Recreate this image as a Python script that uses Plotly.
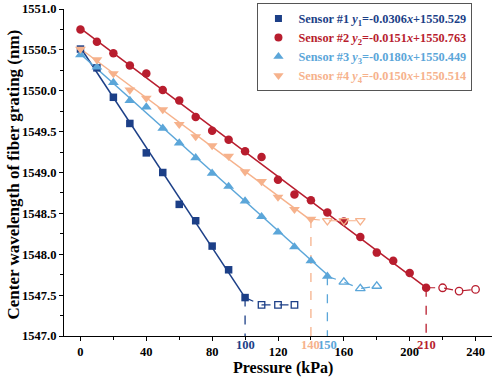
import plotly.graph_objects as go

# ---------------- data ----------------
s1_x = [0, 10, 20, 30, 40, 50, 60, 70, 80, 90, 100]
s1_y = [1550.51, 1550.28, 1549.92, 1549.60, 1549.24, 1549.00, 1548.61, 1548.41, 1548.10, 1547.81, 1547.47]
s1_hx = [110, 120, 130]
s1_hy = [1547.38, 1547.38, 1547.38]

s2_x = [0, 10, 20, 30, 40, 50, 60, 70, 80, 90, 100, 110, 120, 130, 140, 150, 160, 170, 180, 190, 200, 210]
s2_y = [1550.75, 1550.60, 1550.46, 1550.31, 1550.21, 1550.01, 1549.88, 1549.68, 1549.51, 1549.40, 1549.26,
        1549.19, 1548.91, 1548.73, 1548.66, 1548.51, 1548.40, 1548.21, 1548.02, 1547.92, 1547.77, 1547.59]
s2_hx = [220, 230, 240]
s2_hy = [1547.59, 1547.55, 1547.57]

s3_x = [0, 10, 20, 30, 40, 50, 60, 70, 80, 90, 100, 110, 120, 130, 140, 150]
s3_y = [1550.44, 1550.29, 1550.10, 1549.88, 1549.80, 1549.54, 1549.36, 1549.18, 1548.99, 1548.83, 1548.65,
        1548.46, 1548.27, 1548.09, 1547.92, 1547.73]
s3_hx = [160, 170, 180]
s3_hy = [1547.66, 1547.58, 1547.61]

s4_x = [0, 10, 20, 30, 40, 50, 60, 70, 80, 90, 100, 110, 120, 130, 140]
s4_y = [1550.51, 1550.38, 1550.21, 1550.01, 1549.91, 1549.77, 1549.59, 1549.44, 1549.33, 1549.20, 1549.01,
        1548.89, 1548.70, 1548.55, 1548.43]
s4_hx = [150, 160, 170]
s4_hy = [1548.41, 1548.41, 1548.41]

slopes = [-0.0306, -0.0151, -0.0180, -0.0150]
intercepts = [1550.529, 1550.763, 1550.449, 1550.514]
limits = [100, 210, 150, 140]
names = ["Sensor #1", "Sensor #2", "Sensor #3", "Sensor #4"]
slope_txt = ["-0.0306", "-0.0151", "-0.0180", "-0.0150"]
int_txt = ["1550.529", "1550.763", "1550.449", "1550.514"]

x_ticks = [0, 40, 80, 120, 160, 200, 240]
y_ticks = [1547.0, 1547.5, 1548.0, 1548.5, 1549.0, 1549.5, 1550.0, 1550.5, 1551.0]

colors = ["#1c3f87", "#b81d2e", "#5ba6d9", "#f6b28c"]
symbols = ["square", "circle", "triangle-up", "triangle-down"]
hollow = ["square-open", "circle-open", "triangle-up-open", "triangle-down-open"]
msize = [7.5, 8.5, 9.5, 9.5]

FONT = "Liberation Serif, Times New Roman, serif"

series = [(s1_x, s1_y, s1_hx, s1_hy), (s2_x, s2_y, s2_hx, s2_hy),
          (s3_x, s3_y, s3_hx, s3_hy), (s4_x, s4_y, s4_hx, s4_hy)]

fig = go.Figure()
y_min = y_ticks[0]

for i, (sx, sy, hx, hy) in enumerate(series):
    c = colors[i]
    fig.add_trace(go.Scatter(x=[sx[-1], sx[-1]], y=[sy[-1], y_min], mode="lines",
                             line=dict(color=c, width=1.3, dash="dash"), showlegend=False, hoverinfo="skip"))
    fig.add_trace(go.Scatter(x=[sx[-1]] + hx, y=[sy[-1]] + hy, mode="lines",
                             line=dict(color=c, width=1.2, dash="dash"), showlegend=False, hoverinfo="skip"))
    fx = [sx[0], sx[-1]]
    fy = [slopes[i] * v + intercepts[i] for v in fx]
    fig.add_trace(go.Scatter(x=fx, y=fy, mode="lines", line=dict(color=c, width=1.5),
                             showlegend=False, hoverinfo="skip"))

for i, (sx, sy, hx, hy) in enumerate(series):
    c = colors[i]
    fig.add_trace(go.Scatter(x=sx, y=sy, mode="markers",
                             marker=dict(symbol=symbols[i], size=msize[i], color=c),
                             showlegend=False))
    fig.add_trace(go.Scatter(x=hx, y=hy, mode="markers",
                             marker=dict(symbol=hollow[i], size=msize[i] - 1, color=c, line=dict(width=1.3, color=c)),
                             showlegend=False))

for i in range(4):
    c = colors[i]
    label = (f'<span style="color:{c}"><b>{names[i]} <i>y</i><sub>{i+1}</sub>={slope_txt[i]}<i>x</i>+{int_txt[i]}</b></span>')
    fig.add_trace(go.Scatter(x=[None], y=[None], mode="markers", name=label,
                             marker=dict(symbol=symbols[i], size=msize[i] - 0.5, color=c)))

for i in range(4):
    fig.add_annotation(x=limits[i], y=0, xref="x", yref="paper", yanchor="top", yshift=0,
                       text=f"<b>{limits[i]}</b>", showarrow=False,
                       font=dict(family=FONT, size=12.5, color=colors[i]))

# axis titles
fig.add_annotation(x=0, y=0.494, xref="paper", yref="paper", xshift=-51, textangle=-90,
                   xanchor="center", yanchor="middle", showarrow=False,
                   text="<b>Center wavelength of fiber grating (nm)</b>",
                   font=dict(family=FONT, size=17, color="black"))
fig.add_annotation(x=0.512, y=0, xref="paper", yref="paper", yshift=-32,
                   xanchor="center", yanchor="middle", showarrow=False,
                   text="<b>Pressure (kPa)</b>",
                   font=dict(family=FONT, size=16, color="black"))

fig.update_layout(
    width=500, height=381,
    margin=dict(l=64, r=8, t=9, b=45, autoexpand=False),
    paper_bgcolor="white", plot_bgcolor="white",
    font=dict(family=FONT, size=12, color="black"),
    legend=dict(x=0.452, y=1.018, xanchor="left", yanchor="top",
                bordercolor="#555555", borderwidth=1, bgcolor="white",
                font=dict(family=FONT, size=12.3), tracegroupgap=0,
                itemwidth=30),
    xaxis=dict(range=[-10, 250], tickvals=x_ticks, ticktext=[f"<b>{v}</b>" for v in x_ticks],
               showgrid=False, zeroline=False, showline=True, linecolor="black", linewidth=1.2,
               ticks="outside", ticklen=4, tickcolor="black",
               minor=dict(tickvals=[20, 60, 100, 140, 180, 220], ticks="outside", ticklen=3, tickcolor="black"),
               tickfont=dict(family=FONT, size=12.5)),
    yaxis=dict(range=[1547.0, 1551.0], tickvals=y_ticks, ticktext=[f"<b>{v:.1f}</b>" for v in y_ticks],
               showgrid=False, zeroline=False, showline=True, linecolor="black", linewidth=1.2,
               ticks="outside", ticklen=4, tickcolor="black",
               minor=dict(tickvals=[1547.25 + 0.5 * k for k in range(8)], ticks="outside", ticklen=3, tickcolor="black"),
               tickfont=dict(family=FONT, size=12.5), ticklabeloverflow="allow"),
)

# remove the browser's default 8px page margin so the 500x381 figure fills the window exactly
fig.write_html("out.html", config={"displayModeBar": False},
               post_script="document.body.style.margin='0';")
